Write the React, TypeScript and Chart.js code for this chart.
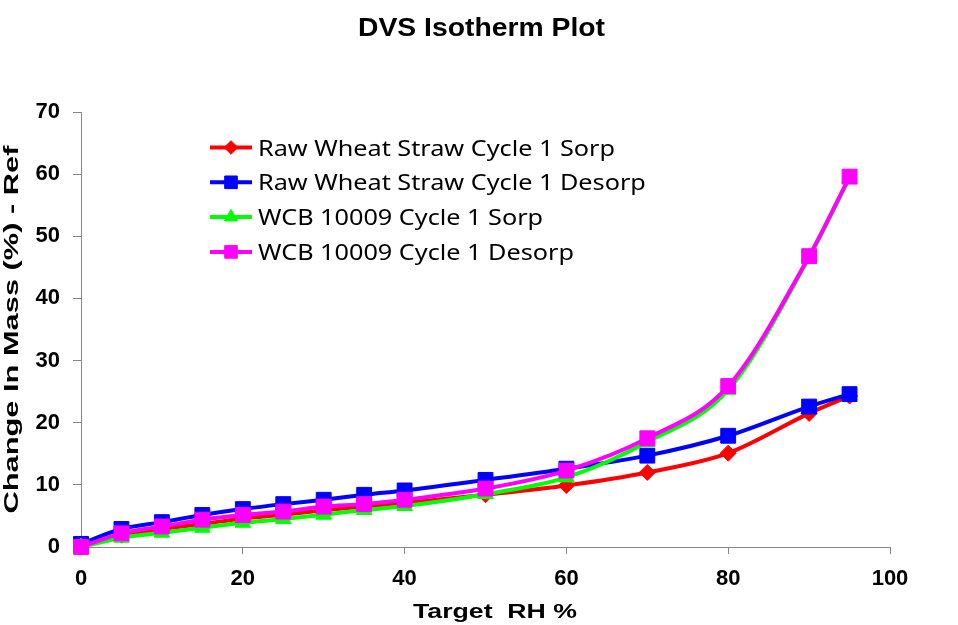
import React, { useEffect, useRef } from 'react';
import { Chart, registerables } from 'chart.js';

Chart.register(...registerables);

// ---- data ----
const targetRH = [0, 5, 10, 15, 20, 25, 30, 35, 40, 50, 60, 70, 80, 90, 95];
const rawSorp = [0, 1.9, 2.9, 3.7, 4.6, 5.2, 5.9, 6.5, 7.1, 8.4, 9.9, 12.0, 15.1, 21.5, 24.3];
const rawDesorp = [0.5, 2.9, 4.0, 5.15, 6.1, 6.9, 7.6, 8.4, 9.1, 10.8, 12.6, 14.7, 17.9, 22.6, 24.6];
const wcbSorp = [0, 1.5, 2.3, 3.1, 3.9, 4.5, 5.2, 5.95, 6.6, 8.5, 11.2, 16.9, 25.3, 46.6, 59.4];
const wcbDesorp = [0, 2.2, 3.3, 4.4, 5.15, 5.7, 6.5, 6.9, 7.6, 9.4, 12.3, 17.5, 25.9, 46.8, 59.6];

const seriesLabels = [
  'Raw Wheat Straw Cycle 1 Sorp',
  'Raw Wheat Straw Cycle 1 Desorp',
  'WCB 10009 Cycle 1 Sorp',
  'WCB 10009 Cycle 1 Desorp',
];
const seriesValues = [rawSorp, rawDesorp, wcbSorp, wcbDesorp];
const seriesColors = ['#FF0000', '#0000FF', '#00FF00', '#FF00FF'];
const seriesMarkers = ['rectRot', 'rect', 'triangle', 'rect'];
const seriesMarkerRadius = [8, 10.5, 9, 10.5];

const chartTitle = 'DVS Isotherm Plot';
const xTitle = 'Target  RH %';
const yTitle = 'Change In Mass (%) - Ref';
const xMin = 0, xMax = 100, xStep = 20;
const yMin = 0, yMax = 70, yStep = 10;

const FAMILY = '"Liberation Sans", Arial, sans-serif';
const AXIS_GRAY = '#868686';

function drawMarker(ctx: CanvasRenderingContext2D, style: string, x: number, y: number, r: number, color: string) {
  ctx.save();
  ctx.fillStyle = color;
  ctx.strokeStyle = color;
  ctx.lineWidth = 1;
  ctx.beginPath();
  if (style === 'rectRot') {
    ctx.moveTo(x - r, y);
    ctx.lineTo(x, y - r);
    ctx.lineTo(x + r, y);
    ctx.lineTo(x, y + r);
  } else if (style === 'rect') {
    const s = r * Math.SQRT1_2;
    ctx.rect(x - s, y - s, 2 * s, 2 * s);
  } else {
    let a = 0;
    ctx.moveTo(x + Math.sin(a) * r, y - Math.cos(a) * r);
    a += (2 * Math.PI) / 3;
    ctx.lineTo(x + Math.sin(a) * r, y - Math.cos(a) * r);
    a += (2 * Math.PI) / 3;
    ctx.lineTo(x + Math.sin(a) * r, y - Math.cos(a) * r);
  }
  ctx.closePath();
  ctx.fill();
  ctx.stroke();
  ctx.restore();
}

function drawStretched(
  ctx: CanvasRenderingContext2D, text: string, font: string,
  x: number, y: number, targetW: number, rot: number, align: CanvasTextAlign,
) {
  ctx.save();
  ctx.font = font;
  const w = ctx.measureText(text).width;
  ctx.translate(x, y);
  if (rot) ctx.rotate(rot);
  ctx.scale(targetW / w, 1);
  ctx.textAlign = align;
  ctx.textBaseline = 'alphabetic';
  ctx.fillStyle = '#000';
  ctx.fillText(text, 0, 0);
  ctx.restore();
}

const textPlugin = {
  id: 'customText',
  afterDraw(chart: any) {
    const ctx: CanvasRenderingContext2D = chart.ctx;
    const ca = chart.chartArea;
    const cx = (ca.left + ca.right) / 2;
    drawStretched(ctx, chartTitle, `bold 25px ${FAMILY}`, cx - 4, ca.top - 76, 247, 0, 'center');
    drawStretched(ctx, xTitle, `bold 20px ${FAMILY}`, cx + 9.5, ca.bottom + 71, 164, 0, 'center');
    drawStretched(ctx, yTitle, `bold 21px ${FAMILY}`, ca.left - 63, (ca.top + ca.bottom) / 2 + 0, 368, -Math.PI / 2, 'center');

    // legend inside the plot
    const legendFont = `22.4px "Noto Sans", "Open Sans", sans-serif`;
    ctx.save();
    ctx.font = legendFont;
    const sx = 357 / ctx.measureText(seriesLabels[0]).width;
    ctx.restore();
    const lx0 = ca.left + 129;
    const lx1 = ca.left + 171;
    const tx = ca.left + 177;
    for (let i = 0; i < seriesLabels.length; i++) {
      const ry = ca.top + 35.5 + i * 34.8;
      ctx.save();
      ctx.strokeStyle = seriesColors[i];
      ctx.lineWidth = 4;
      ctx.beginPath();
      ctx.moveTo(lx0, ry);
      ctx.lineTo(lx1, ry);
      ctx.stroke();
      ctx.restore();
      drawMarker(ctx, seriesMarkers[i], (lx0 + lx1) / 2, ry, seriesMarkerRadius[i] * 0.85, seriesColors[i]);
      ctx.save();
      ctx.font = legendFont;
      ctx.translate(tx, ry + 8);
      ctx.scale(sx, 1);
      ctx.textAlign = 'left';
      ctx.textBaseline = 'alphabetic';
      ctx.fillStyle = '#000';
      ctx.fillText(seriesLabels[i], 0, 0);
      ctx.restore();
    }
  },
};

export default function App() {
  const canvasRef = useRef<HTMLCanvasElement | null>(null);

  useEffect(() => {
    document.body.style.margin = '0';
    const canvas = canvasRef.current;
    if (!canvas) return;
    const datasets = seriesLabels.map((label, i) => ({
      label,
      data: targetRH.map((x, j) => ({ x, y: seriesValues[i][j] })),
      borderColor: seriesColors[i],
      backgroundColor: seriesColors[i],
      pointBackgroundColor: seriesColors[i],
      pointBorderColor: seriesColors[i],
      pointStyle: seriesMarkers[i] as any,
      pointRadius: seriesMarkerRadius[i],
      pointBorderWidth: 1,
      borderWidth: 4,
      cubicInterpolationMode: 'monotone' as const,
      fill: false,
      clip: false as any,
      order: seriesLabels.length - i,
    }));

    const tickFont = { family: FAMILY, size: 22, weight: 'bold' as const };

    const chart = new Chart(canvas, {
      type: 'line',
      data: { datasets },
      plugins: [textPlugin],
      options: {
        responsive: false,
        animation: false,
        layout: { padding: { top: 112, right: 68, left: 0, bottom: 0 } },
        plugins: {
          legend: { display: false },
          title: { display: false },
          tooltip: { enabled: false },
        },
        scales: {
          x: {
            type: 'linear',
            min: xMin,
            max: xMax,
            ticks: { stepSize: xStep, font: tickFont, color: '#000', padding: 12, maxRotation: 0 },
            grid: { drawOnChartArea: false, drawTicks: true, tickLength: 7, color: AXIS_GRAY, lineWidth: 1 },
            border: { color: AXIS_GRAY, width: 1 },
            afterFit: (s: any) => { s.height = 78; },
          },
          y: {
            type: 'linear',
            min: yMin,
            max: yMax,
            ticks: { stepSize: yStep, font: tickFont, color: '#000', padding: 13 },
            grid: { drawOnChartArea: false, drawTicks: true, tickLength: 8, color: AXIS_GRAY, lineWidth: 1 },
            border: { color: AXIS_GRAY, width: 1 },
            afterFit: (s: any) => { s.width = 81; },
          },
        },
      },
    });
    return () => chart.destroy();
  }, []);

  return (
    <div style={{ position: 'fixed', left: 0, top: 0, width: 958, height: 625, background: '#fff' }}>
      <canvas ref={canvasRef} width={958} height={625} style={{ width: 958, height: 625, display: 'block' }} />
    </div>
  );
}
